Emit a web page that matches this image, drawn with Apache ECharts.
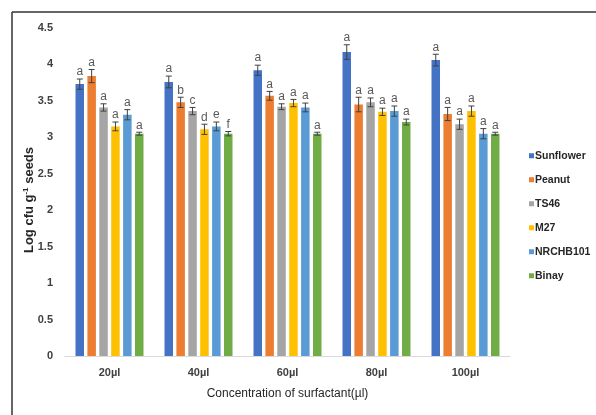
<!DOCTYPE html>
<html><head><meta charset="utf-8">
<script src="https://cdn.jsdelivr.net/npm/echarts@6/dist/echarts.min.js"></script>
<style>html,body{margin:0;padding:0;background:#fff}#c{width:596px;height:415px}</style>
</head><body><div id="c"></div>
<script>
const categories = ['20µl','40µl','60µl','80µl','100µl'];
const seriesNames = ['Sunflower','Peanut','TS46','M27','NRCHB101','Binay'];
const sunflower = [3.73, 3.76, 3.92, 4.17, 4.06];
const peanut    = [3.84, 3.48, 3.57, 3.45, 3.32];
const ts46      = [3.41, 3.36, 3.42, 3.48, 3.18];
const m27       = [3.15, 3.11, 3.47, 3.35, 3.36];
const nrchb101  = [3.31, 3.15, 3.41, 3.36, 3.05];
const binay     = [3.05, 3.05, 3.05, 3.21, 3.05];
const errSunflower = [0.07, 0.08, 0.07, 0.10, 0.08];
const errPeanut    = [0.09, 0.07, 0.06, 0.10, 0.09];
const errTs46      = [0.05, 0.05, 0.04, 0.06, 0.07];
const errM27       = [0.06, 0.07, 0.05, 0.05, 0.07];
const errNrchb101  = [0.07, 0.06, 0.06, 0.07, 0.07];
const errBinay     = [0.02, 0.03, 0.02, 0.04, 0.02];
const lettersSunflower = ['a','a','a','a','a'];
const lettersPeanut    = ['a','b','a','a','a'];
const lettersTs46      = ['a','c','a','a','a'];
const lettersM27       = ['a','d','a','a','a'];
const lettersNrchb101  = ['a','e','a','a','a'];
const lettersBinay     = ['a','f','a','a','a'];
const yTicks = [0, 0.5, 1, 1.5, 2, 2.5, 3, 3.5, 4, 4.5];

const values = [sunflower, peanut, ts46, m27, nrchb101, binay];
const errors = [errSunflower, errPeanut, errTs46, errM27, errNrchb101, errBinay];
const letters = [lettersSunflower, lettersPeanut, lettersTs46, lettersM27, lettersNrchb101, lettersBinay];
const colors = ['#4472C4','#ED7D31','#A5A5A5','#FFC000','#5B9BD5','#70AD47'];

const BAR_W = 8.5, BAR_GAP = 3.4;

const series = [];
seriesNames.forEach((name, i) => {
  series.push({
    name, type: 'bar', data: values[i], barWidth: BAR_W, barGap: (BAR_GAP / BAR_W * 100) + '%',
    itemStyle: { color: colors[i] }, z: 2
  });
});
seriesNames.forEach((name, i) => {
  const data = values[i].map((v, k) => [k, v, errors[i][k], letters[i][k]]);
  series.push({
    type: 'custom', name: name + '_err', z: 5, silent: true,
    encode: { x: 0, y: 1 },
    data,
    renderItem: (params, api) => {
      const k = api.value(0), v = api.value(1), e = api.value(2);
      const base = api.coord([k, v]);
      const total = 6 * BAR_W + 5 * BAR_GAP;
      const cx = base[0] - total / 2 + BAR_W / 2 + i * (BAR_W + BAR_GAP);
      const top = api.coord([k, v + e])[1];
      const bot = api.coord([k, v - e])[1];
      const cap = 3;
      const st = { stroke: '#404040', lineWidth: 1 };
      return { type: 'group', children: [
        { type: 'line', shape: { x1: cx, y1: top, x2: cx, y2: bot }, style: st },
        { type: 'line', shape: { x1: cx - cap, y1: top, x2: cx + cap, y2: top }, style: st },
        { type: 'line', shape: { x1: cx - cap, y1: bot, x2: cx + cap, y2: bot }, style: st },
        { type: 'text', x: cx, y: top - 1, style: { text: data[k][3], fill: '#595959',
          font: '12px "Liberation Sans", Arial, sans-serif', align: 'center', verticalAlign: 'bottom' } }
      ]};
    }
  });
});

const chart = echarts.init(document.getElementById('c'), null, { renderer: 'canvas' });
chart.setOption({
  animation: false,
  backgroundColor: '#fff',
  grid: { left: 65, right: 86, top: 28, bottom: 59 },
  legend: {
    data: seriesNames, orient: 'vertical', left: 524, top: 145,
    itemWidth: 5, itemHeight: 5, itemGap: 12.5, icon: 'rect',
    textStyle: { fontFamily: '"Liberation Sans Narrow", "Liberation Sans", Arial, sans-serif',
      fontWeight: 'bold', fontSize: 10.5, color: '#262626', lineHeight: 11.5, padding: [0,0,0,-4] }
  },
  xAxis: {
    type: 'category', data: categories,
    axisLine: { lineStyle: { color: '#D9D9D9' } }, axisTick: { show: false },
    axisLabel: { fontFamily: '"Liberation Sans Narrow", "Liberation Sans", Arial, sans-serif',
      fontWeight: 'bold', fontSize: 11, color: '#404040', margin: 11 },
    name: 'Concentration of surfactant(µl)', nameLocation: 'middle', nameGap: 32,
    nameTextStyle: { fontFamily: '"Liberation Sans", Arial, sans-serif', fontSize: 12, color: '#262626' }
  },
  yAxis: {
    type: 'value', min: 0, max: 4.5, interval: 0.5,
    axisLine: { show: false }, axisTick: { show: false }, splitLine: { show: false },
    axisLabel: { fontFamily: '"Liberation Sans Narrow", "Liberation Sans", Arial, sans-serif',
      fontWeight: 'bold', fontSize: 11, color: '#404040', margin: 12,
      formatter: v => yTicks.includes(v) ? String(v) : '' },
    name: 'Log cfu g{s|-1} seeds', nameLocation: 'middle', nameGap: 29, nameRotate: 90,
    nameMoveOverlap: false,
    nameTextStyle: { fontFamily: '"Liberation Sans", Arial, sans-serif', fontWeight: 'bold',
      fontSize: 13, color: '#262626', padding: [0, 16, 0, 0],
      rich: { s: { fontSize: 8, fontWeight: 'bold', verticalAlign: 'top', padding: [0,0,6,0],
        fontFamily: '"Liberation Sans", Arial, sans-serif', color: '#262626' } } }
  },
  graphic: [
    { type: 'line', shape: { x1: 12, y1: 12, x2: 596, y2: 12 }, style: { stroke: '#333', lineWidth: 1.5 } },
    { type: 'line', shape: { x1: 12, y1: 12, x2: 12, y2: 415 }, style: { stroke: '#333', lineWidth: 1.5 } }
  ],
  series
});
</script></body></html>
